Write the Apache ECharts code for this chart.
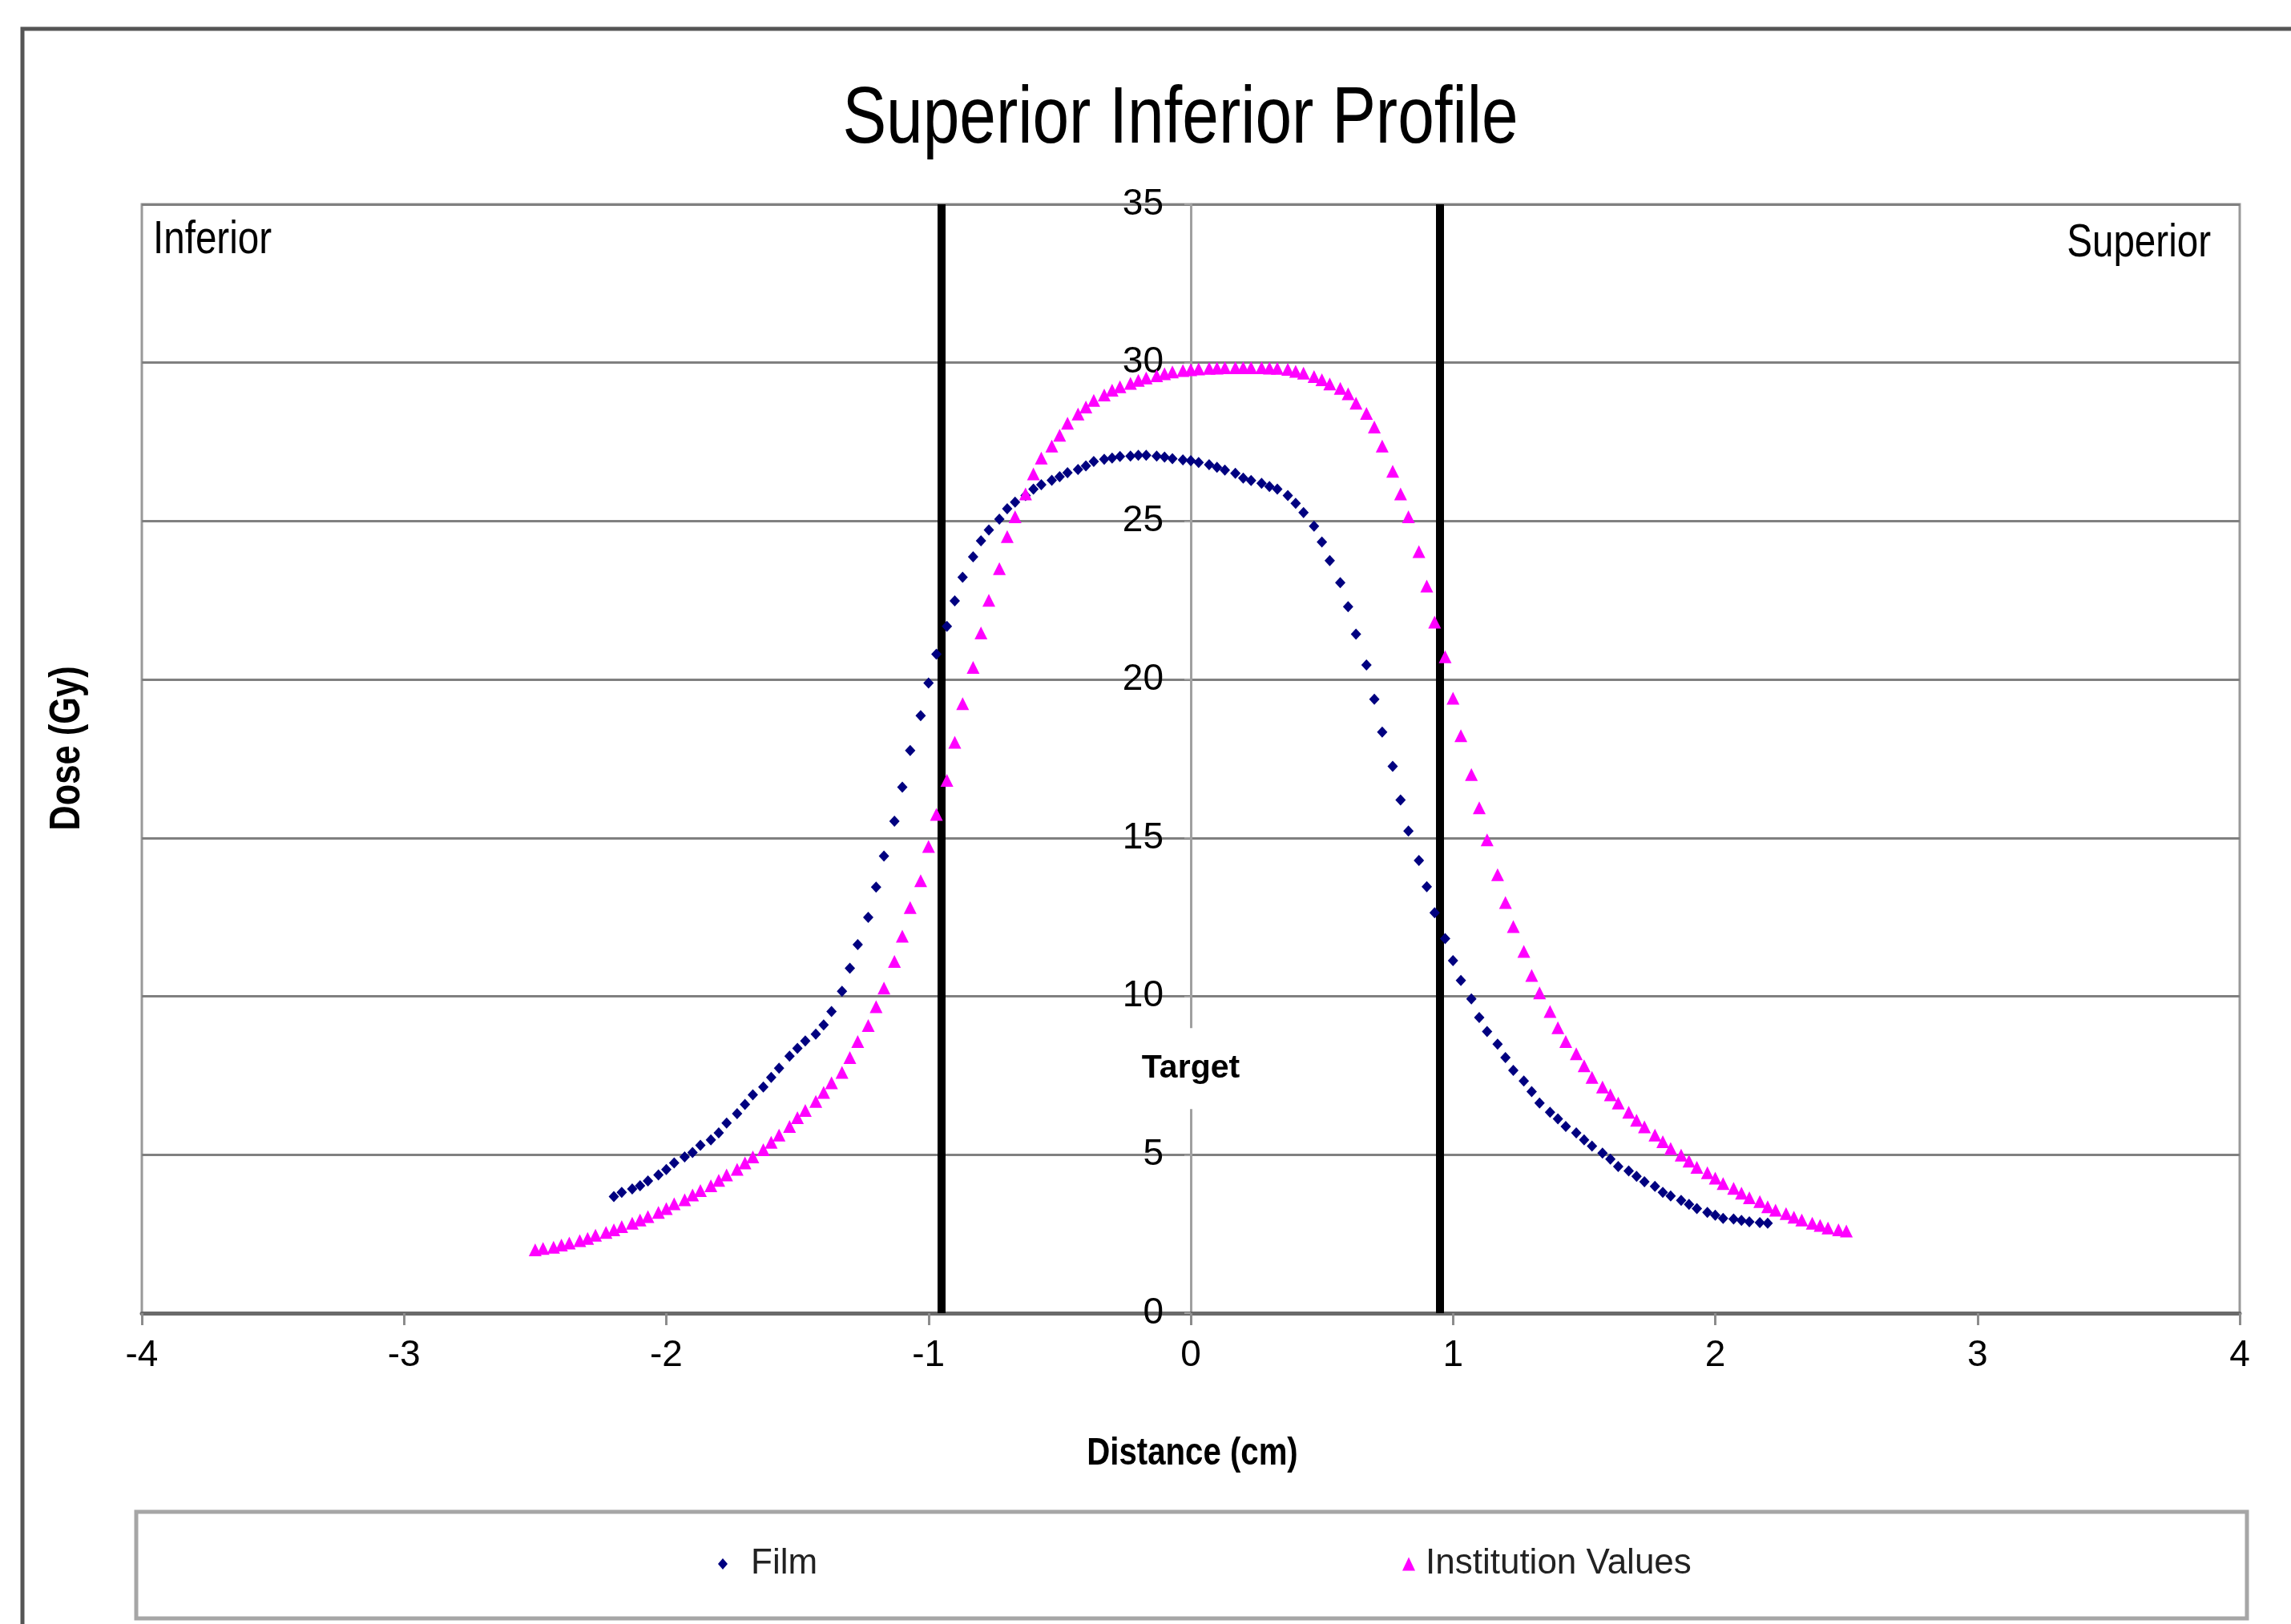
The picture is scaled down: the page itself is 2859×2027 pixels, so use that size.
<!DOCTYPE html>
<html>
<head>
<meta charset="utf-8">
<title>Superior Inferior Profile</title>
<script src="https://cdn.jsdelivr.net/npm/echarts@6/dist/echarts.min.js"></script>
<style>
  html, body { margin: 0; padding: 0; background: #fff; }
  #chart { width: 2859px; height: 2027px; }
</style>
</head>
<body>
<div id="chart"></div>
<script>
// film measurements (cm, Gy)
const filmX = [
  -2.2, -2.17, -2.13, -2.1, -2.07, -2.03, -2, -1.97, -1.93, -1.9,
  -1.87, -1.83, -1.8, -1.77, -1.73, -1.7, -1.67, -1.63, -1.6, -1.57,
  -1.53, -1.5, -1.47, -1.43, -1.4, -1.37, -1.33, -1.3, -1.27, -1.23,
  -1.2, -1.17, -1.13, -1.1, -1.07, -1.03, -1, -0.97, -0.93, -0.9,
  -0.87, -0.83, -0.8, -0.77, -0.73, -0.7, -0.67, -0.63, -0.6, -0.57,
  -0.53, -0.5, -0.47, -0.43, -0.4, -0.37, -0.33, -0.3, -0.27, -0.23,
  -0.2, -0.17, -0.13, -0.1, -0.07, -0.03, 0,
  0.03, 0.07, 0.1, 0.13, 0.17, 0.2, 0.23, 0.27, 0.3, 0.33,
  0.37, 0.4, 0.43, 0.47, 0.5, 0.53, 0.57, 0.6, 0.63, 0.67,
  0.7, 0.73, 0.77, 0.8, 0.83, 0.87, 0.9, 0.93, 0.97, 1,
  1.03, 1.07, 1.1, 1.13, 1.17, 1.2, 1.23, 1.27, 1.3, 1.33,
  1.37, 1.4, 1.43, 1.47, 1.5, 1.53, 1.57, 1.6, 1.63, 1.67,
  1.7, 1.73, 1.77, 1.8, 1.83, 1.87, 1.9, 1.93, 1.97, 2,
  2.03, 2.07, 2.1, 2.13, 2.17, 2.2
]
const filmY = [
  3.68, 3.81, 3.92, 4.02, 4.17, 4.36, 4.53, 4.74, 4.93, 5.07,
  5.30, 5.47, 5.69, 6.00, 6.30, 6.59, 6.89, 7.14, 7.44, 7.73,
  8.11, 8.36, 8.59, 8.81, 9.10, 9.52, 10.16, 10.89, 11.63, 12.49,
  13.45, 14.43, 15.53, 16.60, 17.76, 18.86, 19.89, 20.80, 21.68, 22.48,
  23.23, 23.87, 24.38, 24.72, 25.06, 25.39, 25.60, 25.81, 26.01, 26.15,
  26.29, 26.40, 26.53, 26.63, 26.74, 26.88, 26.95, 26.99, 27.04, 27.05,
  27.08, 27.08, 27.05, 27.02, 26.97, 26.93, 26.91,
  26.85, 26.78, 26.70, 26.61, 26.51, 26.36, 26.28, 26.19, 26.09, 26.01,
  25.81, 25.56, 25.27, 24.84, 24.34, 23.75, 23.06, 22.30, 21.43, 20.46,
  19.38, 18.34, 17.26, 16.20, 15.22, 14.29, 13.46, 12.64, 11.82, 11.13,
  10.50, 9.92, 9.33, 8.89, 8.49, 8.07, 7.66, 7.33, 6.99, 6.63,
  6.34, 6.13, 5.89, 5.69, 5.47, 5.27, 5.05, 4.86, 4.63, 4.49,
  4.32, 4.15, 4.00, 3.81, 3.70, 3.56, 3.43, 3.30, 3.18, 3.09,
  2.99, 2.97, 2.93, 2.88, 2.86, 2.84
]

// institution values (cm, Gy)
const instX = [
  -2.5, -2.47, -2.43, -2.4, -2.37, -2.33, -2.3, -2.27, -2.23, -2.2,
  -2.17, -2.13, -2.1, -2.07, -2.03, -2, -1.97, -1.93, -1.9, -1.87,
  -1.83, -1.8, -1.77, -1.73, -1.7, -1.67, -1.63, -1.6, -1.57, -1.53,
  -1.5, -1.47, -1.43, -1.4, -1.37, -1.33, -1.3, -1.27, -1.23, -1.2,
  -1.17, -1.13, -1.1, -1.07, -1.03, -1, -0.97, -0.93, -0.9, -0.87,
  -0.83, -0.8, -0.77, -0.73, -0.7, -0.67, -0.63, -0.6, -0.57, -0.53,
  -0.5, -0.47, -0.43, -0.4, -0.37, -0.33, -0.3, -0.27, -0.23, -0.2,
  -0.17, -0.13, -0.1, -0.07, -0.03, 0,
  0.03, 0.07, 0.1, 0.13, 0.17, 0.2, 0.23, 0.27, 0.3, 0.33,
  0.37, 0.4, 0.43, 0.47, 0.5, 0.53, 0.57, 0.6, 0.63, 0.67,
  0.7, 0.73, 0.77, 0.8, 0.83, 0.87, 0.9, 0.93, 0.97, 1,
  1.03, 1.07, 1.1, 1.13, 1.17, 1.2, 1.23, 1.27, 1.3, 1.33,
  1.37, 1.4, 1.43, 1.47, 1.5, 1.53, 1.57, 1.6, 1.63, 1.67,
  1.7, 1.73, 1.77, 1.8, 1.83, 1.87, 1.9, 1.93, 1.97, 2,
  2.03, 2.07, 2.1, 2.13, 2.17, 2.2, 2.23, 2.27, 2.3, 2.33,
  2.37, 2.4, 2.43, 2.47, 2.5
]
const instY = [
  2.00, 2.04, 2.08, 2.15, 2.21, 2.29, 2.36, 2.46, 2.55, 2.63,
  2.73, 2.84, 2.94, 3.05, 3.18, 3.30, 3.45, 3.58, 3.73, 3.87,
  4.02, 4.19, 4.36, 4.54, 4.74, 4.93, 5.16, 5.39, 5.62, 5.89,
  6.17, 6.40, 6.68, 6.97, 7.27, 7.60, 8.07, 8.57, 9.08, 9.67,
  10.26, 11.10, 11.90, 12.80, 13.65, 14.73, 15.74, 16.82, 18.02, 19.24,
  20.38, 21.47, 22.50, 23.50, 24.51, 25.14, 25.86, 26.49, 26.99, 27.37,
  27.71, 28.09, 28.38, 28.60, 28.81, 28.98, 29.13, 29.24, 29.35, 29.44,
  29.52, 29.59, 29.65, 29.71, 29.75, 29.78,
  29.80, 29.82, 29.83, 29.84, 29.84, 29.84, 29.84, 29.84, 29.83, 29.82,
  29.79, 29.73, 29.67, 29.56, 29.46, 29.33, 29.19, 29.02, 28.72, 28.40,
  27.97, 27.37, 26.57, 25.86, 25.14, 24.04, 22.95, 21.81, 20.72, 19.41,
  18.23, 17.00, 15.95, 14.94, 13.84, 12.96, 12.20, 11.42, 10.66, 10.11,
  9.52, 9.01, 8.57, 8.19, 7.81, 7.44, 7.14, 6.89, 6.63, 6.34,
  6.09, 5.88, 5.62, 5.41, 5.20, 4.99, 4.80, 4.60, 4.43, 4.26,
  4.09, 3.94, 3.79, 3.64, 3.52, 3.36, 3.25, 3.14, 3.03, 2.94,
  2.84, 2.77, 2.69, 2.63, 2.59
]

// target edges (cm) and the target note
const targetEdges = [-0.95, 0.95]
const targetNote = { text: 'Target', x: 0, y: 7.72 }

const seriesNames = ['Film', 'Institution Values']
const cornerLabels = ['Inferior', 'Superior']
const titleText = 'Superior Inferior Profile'
const xName = 'Distance (cm)'
const yName = 'Dose (Gy)'

const FONT = "'Liberation Sans', Arial, sans-serif"
const NARROW = 0.82   // the original uses a condensed face

const chart = echarts.init(document.getElementById('chart'))

// grid geometry; y axis sits on x = 0
const gridLeft = 177, gridWidth = 2618
const yAxisShift = -(gridWidth / 2)

const option = {
  backgroundColor: '#ffffff',
  animation: false,
  grid: {
    left: gridLeft,
    top: 255,
    width: gridWidth,
    height: 1384,
    show: true,
    borderColor: '#999',
    borderWidth: 3,
    outerBoundsMode: 'none'
  },
  legend: [
    {
      data: [{ name: seriesNames[0], icon: 'diamond' }],
      left: 896,
      top: 1930,
      padding: 0,
      itemWidth: 12,
      itemHeight: 14,
      selectedMode: false,
      textStyle: { fontFamily: FONT, fontSize: 44, color: '#222', padding: [0, 0, 0, 24] }
    },
    {
      data: [{ name: seriesNames[1], icon: 'triangle' }],
      left: 1750,
      top: 1930,
      padding: 0,
      itemWidth: 16,
      itemHeight: 17,
      selectedMode: false,
      textStyle: { fontFamily: FONT, fontSize: 44, color: '#222', padding: [0, 0, 0, 8] }
    }
  ],
  xAxis: {
    type: 'value',
    min: -4,
    max: 4,
    interval: 1,
    axisLine: { show: true, onZero: false, lineStyle: { color: '#6a6a6a', width: 5 } },
    axisTick: { show: true, length: 15, lineStyle: { color: '#8c8c8c', width: 3 } },
    axisLabel: { margin: 30, fontFamily: FONT, fontSize: 46, color: '#000' },
    splitLine: { show: false }
  },
  yAxis: {
    type: 'value',
    min: 0,
    max: 35,
    interval: 5,
    position: 'left',
    offset: yAxisShift,
    axisLine: { show: true, onZero: false, lineStyle: { color: '#a0a0a0', width: 3 } },
    axisTick: { show: true, length: 8, lineStyle: { color: '#a0a0a0', width: 2 } },
    axisLabel: { margin: 34, fontFamily: FONT, fontSize: 46, color: '#000' },
    splitLine: { show: true, lineStyle: { color: '#808080', width: 3 } }
  },
  graphic: [
    {
      type: 'rect',
      silent: true,
      z: -10,
      shape: { x: 28, y: 36, width: 3000, height: 2200 },
      style: { fill: 'none', stroke: '#555', lineWidth: 5 }
    },
    {
      type: 'rect',
      silent: true,
      z: -10,
      shape: { x: 170, y: 1887, width: 2634, height: 133 },
      style: { fill: 'none', stroke: '#a6a6a6', lineWidth: 5 }
    },
    {
      type: 'text',
      x: 1473,
      y: 150,
      scaleX: NARROW,
      style: { text: titleText, font: '100px ' + FONT, fill: '#000', align: 'center', verticalAlign: 'middle' }
    },
    {
      type: 'text',
      x: 191,
      y: 300,
      scaleX: NARROW,
      style: { text: cornerLabels[0], font: '58px ' + FONT, fill: '#000', align: 'left', verticalAlign: 'middle' }
    },
    {
      type: 'text',
      x: 2759,
      y: 304,
      scaleX: NARROW,
      style: { text: cornerLabels[1], font: '58px ' + FONT, fill: '#000', align: 'right', verticalAlign: 'middle' }
    },
    {
      type: 'text',
      x: 1488,
      y: 1814,
      scaleX: NARROW,
      style: { text: xName, font: 'bold 49px ' + FONT, fill: '#000', align: 'center', verticalAlign: 'middle' }
    },
    {
      type: 'text',
      x: 84,
      y: 934,
      rotation: Math.PI / 2,
      scaleX: NARROW,
      style: { text: yName, font: 'bold 53px ' + FONT, fill: '#000', align: 'center', verticalAlign: 'middle' }
    }
  ],
  series: [
    {
      name: seriesNames[0],
      type: 'scatter',
      symbol: 'diamond',
      symbolSize: [13, 14],
      itemStyle: { color: '#000080', opacity: 1 },
      z: 3,
      data: filmX.map((x, i) => [x, filmY[i]]),
      markLine: {
        silent: true,
        z: 1,
        symbol: ['none', 'none'],
        label: { show: false },
        lineStyle: { color: '#000', width: 10, type: 'solid' },
        emphasis: { disabled: true },
        data: targetEdges.map(v => ({ xAxis: v }))
      }
    },
    {
      name: seriesNames[1],
      type: 'scatter',
      symbol: 'triangle',
      symbolSize: [16, 16],
      itemStyle: { color: '#ff00ff', opacity: 1 },
      z: 4,
      data: instX.map((x, i) => [x, instY[i]]),
      markPoint: {
        silent: true,
        symbol: 'rect',
        symbolSize: 1,
        itemStyle: { color: 'rgba(0,0,0,0)' },
        label: {
          show: true,
          position: 'inside',
          formatter: targetNote.text,
          fontFamily: FONT,
          fontSize: 41,
          fontWeight: 'bold',
          color: '#000',
          backgroundColor: '#fff',
          padding: [14, 4, 46, 4]
        },
        data: [{ name: targetNote.text, coord: [targetNote.x, targetNote.y] }]
      }
    }
  ]
}

chart.setOption(option)
</script>
</body>
</html>
